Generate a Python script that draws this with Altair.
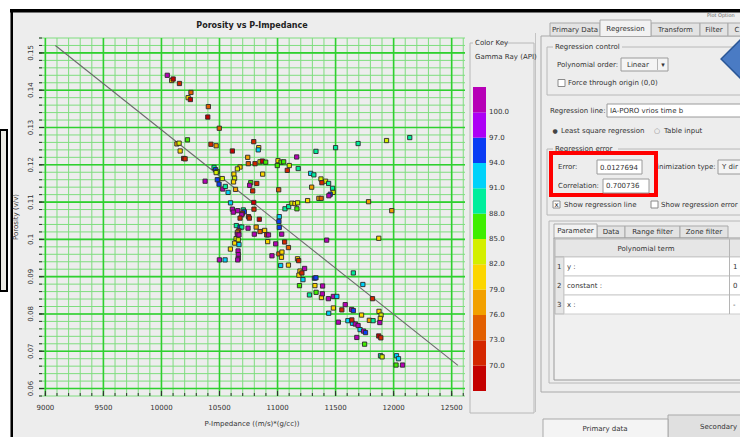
import altair as alt
import pandas as pd

# ---------------- data ----------------
p_impedance = [10050,10088,10101,10155,10254,10230,10249,10404,10399,10498,
10133,10152,10224,10161,10191,10204,10426,10471,10611,10795,
10838,10834,10743,10748,10806,10849,10869,10898,10677,10654,
10872,10624,10630,10621,10638,10453,10466,10481,10471,10524,
10376,10481,10496,10528,10550,10574,10769,10760,10821,10786,
11004,11030,11053,10998,11101,11084,11165,11178,11331,11500,
11694,11285,11313,11374,11414,11382,11440,11474,11479,11454,
11442,11294,11356,11376,11259,11010,11015,11064,11096,11124,
11150,11173,11167,10795,10797,10595,10611,10619,10657,10705,
10714,10697,10750,10692,10843,10677,10757,11784,10645,10677,
10692,10746,10816,10849,10889,10907,10922,10800,10666,10654,
10654,10643,10668,10631,10662,10668,10594,10660,10662,10662,
10657,10499,10548,10915,10984,11012,11038,11034,11061,11094,
11036,11012,11015,10952,11027,11094,11172,11182,11193,11184,
11210,11233,11219,11189,11318,11331,11322,11388,11332,11275,
11378,11386,11438,11481,11511,11481,11441,11554,11583,11524,
11638,11653,11606,11646,11640,11670,11694,11711,11724,11791,
11741,11758,11683,11750,11653,11735,11423,12139,11939,11984,
11872,11818,11874,11892,11885,11823,11881,11872,11890,11887,
11901,12025,12042,12021,12077]

porosity = [0.1440,0.1426,0.1430,0.1418,0.1394,0.1380,0.1375,0.1356,0.1328,0.1298,
0.1256,0.1258,0.1267,0.1237,0.1217,0.1216,0.1255,0.1251,0.1237,0.1262,
0.1246,0.1240,0.1220,0.1203,0.1203,0.1208,0.1210,0.1207,0.1194,0.1189,
0.1175,0.1175,0.1164,0.1154,0.1134,0.1193,0.1187,0.1182,0.1179,0.1163,
0.1156,0.1160,0.1148,0.1135,0.1142,0.1126,0.1152,0.1145,0.1150,0.1130,
0.1211,0.1207,0.1208,0.1198,0.1198,0.1185,0.1221,0.1190,0.1236,0.1246,
0.1257,0.1177,0.1173,0.1162,0.1156,0.1152,0.1150,0.1137,0.1126,0.1121,
0.1117,0.1140,0.1110,0.1110,0.1104,0.1133,0.1061,0.1082,0.1088,0.1097,
0.1096,0.1098,0.1082,0.1099,0.1081,0.1098,0.1081,0.1073,0.1077,0.1079,
0.1074,0.1070,0.1061,0.1066,0.1054,0.1057,0.1057,0.1101,0.1037,0.1033,
0.1033,0.1030,0.1033,0.1021,0.1024,0.1012,0.1012,0.1014,0.1023,0.1019,
0.1014,0.1002,0.1012,0.0990,0.0999,0.0986,0.0974,0.0969,0.0959,0.0949,
0.0945,0.0945,0.0945,0.0994,0.0988,0.0961,0.0966,0.0952,0.0993,0.0978,
0.1014,0.1048,0.1032,0.0956,0.0930,0.0931,0.0948,0.0943,0.0915,0.0904,
0.0910,0.0922,0.0892,0.0876,0.0896,0.0897,0.0876,0.0875,0.0858,0.0851,
0.0844,0.0854,0.0841,0.0847,0.0847,0.0816,0.0802,0.0811,0.0825,0.0778,
0.0812,0.0809,0.0782,0.0775,0.0784,0.0773,0.0769,0.0758,0.0797,0.0783,
0.0754,0.0750,0.0737,0.0719,0.0910,0.0879,0.0998,0.1273,0.1265,0.1077,
0.1003,0.0841,0.0807,0.0797,0.0788,0.0782,0.0777,0.0741,0.0736,0.0688,
0.0685,0.0688,0.0680,0.0663,0.0663]

gamma_ray = [102,81,68,71,74,81,68,75,69,74,
78,83,87,80,68,70,71,76,69,71,
81,91,77,75,70,84,68,87,81,82,
81,80,83,81,78,90,95,87,84,83,
102,95,96,102,90,92,87,101,70,71,
81,87,86,87,82,70,102,90,90,89,
90,91,90,83,84,72,89,90,82,95,
102,77,77,75,81,74,91,90,89,84,
81,82,86,69,70,91,102,103,101,90,
95,71,70,102,69,70,71,77,90,96,
90,102,77,75,81,70,102,101,72,78,
102,83,103,81,84,91,81,102,101,103,
102,102,91,81,102,73,81,79,70,75,
102,96,95,102,91,81,81,70,79,81,
71,102,91,87,95,96,81,102,87,90,
81,102,102,101,91,81,91,71,102,102,
102,96,91,91,70,102,101,91,79,76,
102,96,102,87,89,91,102,90,82,76,
81,70,81,82,81,90,102,69,70,90,
82,91,92,87,102]

regression_x = [9086, 12554]
regression_y = [0.1520, 0.0662]

gr_breaks = [70, 73, 76, 79, 82, 85, 88, 91, 94, 97, 100]
gr_colors = ["#c40000", "#d42600", "#e25f00", "#f2a000", "#fcd600", "#d4ef00",
             "#3fee00", "#00ee9c", "#00d2fa", "#0a3cf4", "#ad00f5", "#b700b7"]

x_label_values = [9000, 9500, 10000, 10500, 11000, 11500, 12000, 12500]
y_label_values = [0.06, 0.07, 0.08, 0.09, 0.10, 0.11, 0.12, 0.13, 0.14, 0.15]
x_minor = list(range(9000, 12601, 100))
y_minor = [round(0.058 + 0.002 * i, 3) for i in range(49)]
X_DOMAIN = [8945, 12615]
Y_DOMAIN = [0.058, 0.154]

x_title = "P-Impedance ((m/s)*(g/cc))"
y_title = "Porosity (v/v)"
chart_title = "Porosity vs P-Impedance"

# ---------------- layout ----------------
PL, PT, W, H = 39, 38, 426, 358
FONT = "DejaVu Sans"
TXT = "#333333"

xs = alt.Scale(domain=X_DOMAIN, nice=False, zero=False)
ys = alt.Scale(domain=Y_DOMAIN, nice=False, zero=False)

df_pts = pd.DataFrame({"imp": p_impedance, "por": porosity, "gr": gamma_ray})
df_xmin = pd.DataFrame({"v": x_minor})
df_ymin = pd.DataFrame({"v": y_minor})
df_xmaj = pd.DataFrame({"v": x_label_values})
df_ymaj = pd.DataFrame({"v": y_label_values})

def vrule(df, color, w):
    return alt.Chart(df).mark_rule(color=color, strokeWidth=w).encode(
        x=alt.X("v:Q", scale=xs, axis=None))

def hrule(df, color, w):
    return alt.Chart(df).mark_rule(color=color, strokeWidth=w).encode(
        y=alt.Y("v:Q", scale=ys, axis=None))

def xtick(df, length):
    return alt.Chart(df).mark_rule(color="#333333", strokeWidth=1).encode(
        x=alt.X("v:Q", scale=xs, axis=None), y=alt.value(H - length), y2=alt.value(H))

def ytick(df, length):
    return alt.Chart(df).mark_rule(color="#333333", strokeWidth=1).encode(
        y=alt.Y("v:Q", scale=ys, axis=None), x=alt.value(0), x2=alt.value(length))

# tick labels drawn through the same scales
x_labels = alt.Chart(df_xmaj).mark_text(
    fontSize=7, color=TXT, baseline="middle", align="center").encode(
    x=alt.X("v:Q", scale=xs, axis=None), y=alt.value(H + 12),
    text=alt.Text("v:Q", format="d"))

y_labels = alt.Chart(df_ymaj).mark_text(
    fontSize=7, color=TXT, baseline="middle", align="center", angle=270).encode(
    y=alt.Y("v:Q", scale=ys, axis=None), x=alt.value(-8.5),
    text=alt.Text("v:Q", format="~g"))

reg = alt.Chart(pd.DataFrame({"imp": regression_x, "por": regression_y})).mark_line(
    color="#6a6a6a", strokeWidth=1.1).encode(
    x=alt.X("imp:Q", scale=xs, axis=None), y=alt.Y("por:Q", scale=ys, axis=None))

points = alt.Chart(df_pts).mark_square(
    size=18, filled=True, stroke="#2a2a2a", strokeWidth=0.9, opacity=1).encode(
    x=alt.X("imp:Q", scale=xs, axis=None),
    y=alt.Y("por:Q", scale=ys, axis=None),
    color=alt.Color("gr:Q", scale=alt.Scale(type="threshold", domain=gr_breaks, range=gr_colors),
                    legend=alt.Legend(title=None, type="gradient", direction="vertical",
                                      orient="none", legendX=434, legendY=49, padding=0,
                                      gradientLength=304, gradientThickness=13,
                                      gradientStrokeWidth=0, labelFontSize=7,
                                      labelColor=TXT, labelOffset=3, format=".1f")))

# ---------------- surrounding screenshot decoration (page pixels) ----------------
G = "#ededed"
BR = "#a9a9a9"
T = "transparent"

back_rects = [
    (0, 740, 0, 9, "#ffffff", T, 0),
    (0, 10.5, 0, 437, "#ffffff", T, 0),
    (10, 740, 9, 12.5, "#000000", T, 0),
    (10.5, 13, 9, 437, "#000000", T, 0),
    (0, 7, 130, 291, "#ecebe4", "#000000", 2),
    (470, 534, 43, 413, T, "#b8b8b8", 1),
    (473, 503, 39, 47, G, T, 0),
    (535, 536, 33, 412, "#c4c4c4", T, 0),
    (541, 746, 36, 392, T, BR, 1),
    (550, 600, 23, 36, "#e3e3e3", BR, 1),
    (651, 700, 23, 36, "#e3e3e3", BR, 1),
    (700, 728, 23, 36, "#e3e3e3", BR, 1),
    (728, 746, 23, 36, "#e3e3e3", BR, 1),
    (600, 651, 20, 36.5, "#f2f2f2", BR, 1),
    (547, 746, 47, 95, T, "#b8b8b8", 1),
    (553, 622, 43, 51, G, T, 0),
    (621, 668, 58, 71, "#f4f4f4", "#9a9a9a", 1),
    (657, 658, 59, 70, "#b5b5b5", T, 0),
    (558, 565, 79.5, 86.5, "#ffffff", "#8a8a8a", 1),
    (607, 746, 104, 117, "#ffffff", "#9a9a9a", 1),
    (547, 746, 149, 215, T, "#b8b8b8", 1),
    (553, 618, 145, 153, G, T, 0),
    (718, 746, 160, 174, "#f4f4f4", "#9a9a9a", 1),
    (553, 560, 201, 208, "#ffffff", "#8a8a8a", 1),
    (651, 658, 201, 208, "#ffffff", "#8a8a8a", 1),
    (549, 746, 221, 383, T, "#b8b8b8", 1),
    (597, 625, 226, 238, "#e3e3e3", BR, 1),
    (625, 680, 226, 238, "#e3e3e3", BR, 1),
    (680, 728, 226, 238, "#e3e3e3", BR, 1),
    (554, 597, 224, 238.5, "#f2f2f2", BR, 1),
    (554, 744, 238, 380, "#f0f0f0", "#9a9a9a", 1),
    (555, 744, 239, 257, "#e6e6e6", "#b5b5b5", 1),
    (555, 564, 257, 314, "#e6e6e6", "#b5b5b5", 1),
    (564, 744, 257, 276, "#ffffff", "#cccccc", 1),
    (564, 744, 276, 295, "#ffffff", "#cccccc", 1),
    (564, 744, 295, 314, "#ffffff", "#cccccc", 1),
    (729, 730, 239, 314, "#b5b5b5", T, 0),
    (668, 746, 415, 440, "#e0e0e0", BR, 1),
    (543, 668, 419, 440, "#f4f4f4", BR, 1),
]

front_rects = [
    (551, 656, 153, 195, G, "#ff0000", 4),
    (597, 642, 160, 174, "#ffffff", "#9a9a9a", 1),
    (603, 649, 179, 193, "#ffffff", "#9a9a9a", 1),
]

S = 7
back_texts_left = [
    (475, 43, "Color Key", S, TXT),
    (475, 57, "Gamma Ray (API)", S, TXT),
    (707, 15, "Plot Option", 5, "#666666"),
    (555, 47, "Regression control", S, TXT),
    (557, 64.5, "Polynomial order:", S, TXT),
    (627, 64.5, "Linear", S, TXT),
    (568, 83, "Force through origin (0,0)", S, TXT),
    (550, 110.5, "Regression line:", S, TXT),
    (610, 110.5, "IA-PORO vrios time b", S, TXT),
    (561, 131, "Least square regression", S, TXT),
    (664, 131, "Table input", S, TXT),
    (555, 149, "Regression error", S, TXT),
    (651, 167, "Minimization type:", S, TXT),
    (722, 167, "Y dir", S, TXT),
    (564, 204.5, "Show regression line", S, TXT),
    (661, 204.5, "Show regression error", S, TXT),
    (557, 266.5, "1", S, TXT), (567, 266.5, "y :", S, TXT),
    (557, 285.5, "2", S, TXT), (567, 285.5, "constant :", S, TXT),
    (557, 304.5, "3", S, TXT), (567, 304.5, "x :", S, TXT),
    (733, 266.5, "1", S, TXT), (733, 285.5, "0", S, TXT), (733, 304.5, "-", S, TXT),
    (700, 427, "Secondary", S, TXT),
]
back_texts_center = [
    (575, 30, "Primary Data", S, TXT),
    (625.5, 28.5, "Regression", S, TXT),
    (675.5, 30, "Transform", S, TXT),
    (714, 30, "Filter", S, TXT),
    (737, 30, "C", S, TXT),
    (663, 64.5, "\u25be", S, TXT),
    (555, 131, "\u25cf", 6, "#444444"),
    (657, 131, "\u25cb", 7, "#888888"),
    (556.5, 204.5, "x", 7, "#222222"),
    (575.5, 231, "Parameter", S, TXT),
    (611, 232, "Data", S, TXT),
    (652.5, 232, "Range filter", S, TXT),
    (704, 232, "Zone filter", S, TXT),
    (646, 248.5, "Polynomial term", S, TXT),
    (605, 429, "Primary data", S, TXT),
    (252, 424, x_title, S, TXT),
]
title_texts = [
    (252, 26, chart_title, 8, "#222222"),
]
y_title_texts = [
    (16, 217, y_title, S, TXT),
]
front_texts_left = [
    (558, 167, "Error:", S, TXT),
    (600, 167.5, "0.0127694", S, TXT),
    (558, 186, "Correlation:", S, TXT),
    (606, 186, "0.700736", S, TXT),
]


def E(name):
    return alt.ExprRef(expr="datum." + name)


def rect_layer(items):
    df = pd.DataFrame({
        "x1": [r[0] - PL for r in items], "x2": [r[1] - PL for r in items],
        "y1": [r[2] - PT for r in items], "y2": [r[3] - PT for r in items],
        "f": [r[4] for r in items], "st": [r[5] for r in items],
        "sw": [r[6] for r in items]})
    return alt.Chart(df).mark_rect(
        x=E("x1"), x2=E("x2"), y=E("y1"), y2=E("y2"),
        fill=E("f"), stroke=E("st"), strokeWidth=E("sw")).encode(opacity=alt.value(1))


def text_layer(items, align, weight="normal", angle=0):
    df = pd.DataFrame({
        "x": [t[0] - PL for t in items], "y": [t[1] - PT for t in items],
        "t": [t[2] for t in items], "s": [t[3] for t in items], "c": [t[4] for t in items]})
    return alt.Chart(df).mark_text(
        align=align, baseline="middle", font=FONT, fontWeight=weight, angle=angle,
        x=E("x"), y=E("y"), fill=E("c"), fontSize=E("s")).encode(text="t:N")


diamond = alt.Chart(pd.DataFrame({"k": [0]})).mark_point(
    shape="diamond", size=2900, filled=True, fill="#4a7bc4", stroke="#2b5797",
    strokeWidth=1.5, opacity=1, x=748 - PL, y=59 - PT).encode(opacity=alt.value(1))

chart = alt.layer(
    rect_layer(back_rects),
    vrule(df_xmin, "#7fdd7f", 1), hrule(df_ymin, "#7fdd7f", 1),
    vrule(df_xmaj, "#2fd02f", 1.6), hrule(df_ymaj, "#2fd02f", 1.6),
    xtick(df_xmin, 3), xtick(df_xmaj, 5), ytick(df_ymin, 3), ytick(df_ymaj, 5),
    reg, points, x_labels, y_labels,
    text_layer(back_texts_left, "left"),
    text_layer(back_texts_center, "center"),
    text_layer(title_texts, "center", "bold"),
    text_layer(y_title_texts, "center", "normal", 270),
    rect_layer(front_rects), text_layer(front_texts_left, "left"),
    diamond,
).properties(
    width=W, height=H,
    autosize=alt.AutoSizeParams(type="none"),
    padding={"left": PL, "top": PT, "right": 740 - PL - W, "bottom": 437 - PT - H},
    background=G,
).configure(font=FONT).configure_view(stroke=None)

chart.save("out.html", embed_options={"renderer": "svg", "actions": False})
